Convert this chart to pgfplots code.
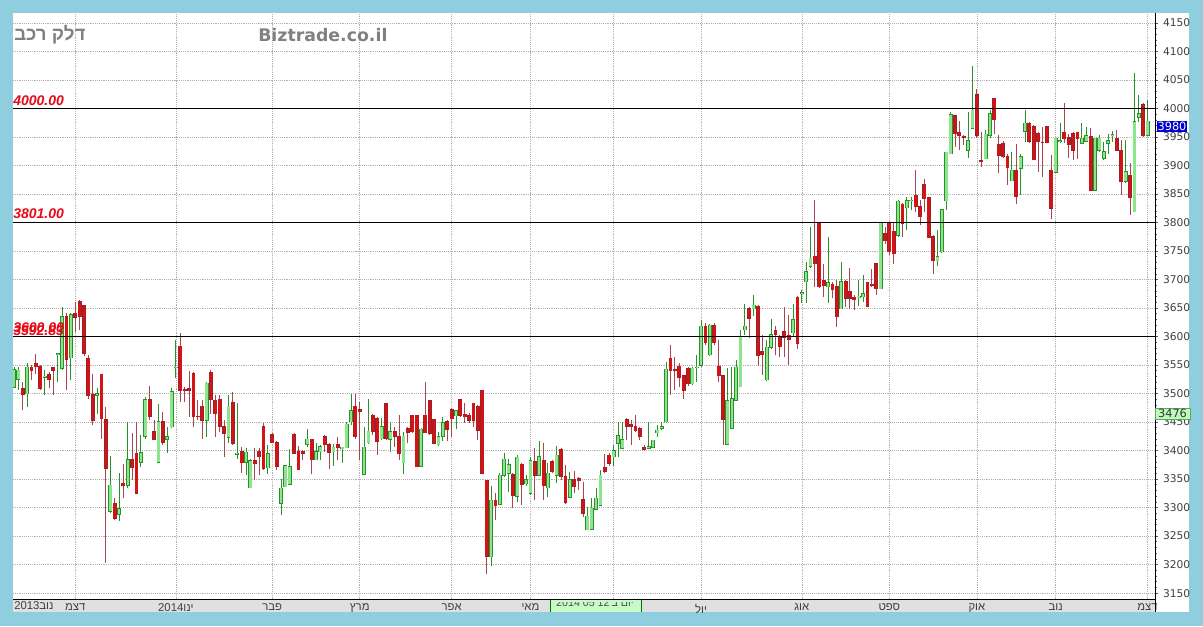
\documentclass[border=0pt]{standalone}
\usepackage{fontspec}
\usepackage{pgfplots}
\usepackage{pgfplotstable}
\pgfplotsset{compat=1.18}
\setmainfont{DejaVu Sans}
\newfontfamily\heb[Script=Hebrew]{Liberation Sans}
\newfontfamily\lib{Liberation Sans}
\TeXXeTstate=1
\definecolor{bgblue}{RGB}{143,206,222}
\definecolor{bandgray}{RGB}{224,224,224}
\definecolor{labred}{RGB}{230,10,25}
\definecolor{titlegray}{RGB}{128,128,128}
\definecolor{upfill}{RGB}{140,228,140}
\definecolor{updraw}{RGB}{40,145,40}
\definecolor{dnfill}{RGB}{210,20,20}
\definecolor{dndraw}{RGB}{160,30,40}
\definecolor{dnwick}{RGB}{165,70,80}
\definecolor{boxblue}{RGB}{0,0,210}
\definecolor{boxgreen}{RGB}{190,250,190}
\definecolor{boxgreendraw}{RGB}{90,170,90}
\definecolor{tipgreen}{RGB}{200,250,200}

\pgfplotsset{
  wick/.style={draw=none, no marks, forget plot,
    error bars/y dir=plus, error bars/y explicit, error bars/error mark=none,
    error bars/error bar style={draw=#1, line width=0.7pt}},
  bodyout/.style={draw=none, no marks, forget plot,
    error bars/y dir=plus, error bars/y explicit, error bars/error mark=none,
    error bars/error bar style={draw=#1, line width=2.9pt, shorten <=-0.4pt, shorten >=-0.4pt}},
  bodyin/.style={draw=none, no marks, forget plot,
    error bars/y dir=plus, error bars/y explicit, error bars/error mark=none,
    error bars/error bar style={draw=#1, line width=1.9pt}},
}

\pgfplotstableread{
i O H L C
0 3511 3546 3509 3542
1 3525 3546 3506 3541
3 3500 3553 3476 3546
7 3529 3541 3497 3530
10 3569 3570 3521 3570
11 3544 3652 3542 3635
13 3563 3642 3524 3638
19 3497 3509 3465 3500
22 3294 3390 3290 3339
24 3288 3360 3277 3298
26 3339 3451 3334 3384
29 3380 3427 3372 3396
30 3425 3494 3420 3489
33 3380 3482 3380 3451
35 3420 3442 3395 3424
36 3442 3509 3439 3503
37 3545 3594 3527 3546
44 3453 3521 3424 3518
49 3423 3497 3413 3478
51 3394 3483 3386 3395
53 3380 3404 3357 3397
54 3335 3386 3335 3382
58 3370 3410 3359 3394
61 3308 3351 3287 3334
62 3337 3375 3337 3373
63 3341 3402 3339 3372
67 3411 3437 3407 3420
69 3384 3413 3383 3398
70 3398 3410 3383 3407
73 3398 3411 3373 3406
75 3403 3407 3378 3406
76 3405 3451 3404 3446
77 3451 3499 3445 3470
80 3359 3442 3357 3406
81 3414 3490 3411 3434
84 3421 3457 3418 3442
86 3420 3451 3398 3433
89 3379 3433 3359 3425
93 3373 3439 3372 3437
97 3410 3433 3408 3424
98 3425 3459 3417 3449
101 3461 3472 3437 3470
109 3214 3338 3197 3313
111 3306 3360 3304 3357
112 3357 3395 3354 3385
113 3360 3386 3328 3375
115 3320 3392 3310 3388
117 3342 3357 3338 3349
118 3325 3389 3322 3382
120 3357 3416 3357 3389
122 3335 3378 3319 3360
124 3357 3408 3344 3392
127 3318 3363 3316 3349
131 3261 3301 3261 3285
132 3262 3316 3261 3299
133 3297 3334 3296 3316
134 3304 3366 3303 3357
137 3389 3410 3373 3400
138 3413 3451 3389 3426
139 3404 3451 3402 3419
145 3404 3451 3404 3407
146 3406 3419 3404 3418
147 3431 3445 3424 3436
148 3439 3451 3436 3442
149 3451 3556 3449 3543
155 3517 3547 3515 3544
156 3545 3567 3521 3546
157 3550 3629 3547 3618
159 3568 3622 3566 3620
163 3411 3544 3410 3487
164 3439 3546 3438 3491
165 3488 3559 3487 3546
166 3512 3611 3511 3600
167 3612 3657 3603 3618
169 3649 3673 3636 3655
172 3524 3594 3522 3581
173 3581 3630 3579 3603
178 3607 3657 3600 3629
180 3676 3681 3658 3677
181 3696 3731 3659 3714
182 3723 3793 3721 3737
186 3687 3774 3659 3694
189 3649 3731 3648 3696
193 3668 3699 3653 3671
194 3670 3708 3661 3675
198 3684 3800 3683 3799
202 3778 3840 3775 3837
204 3826 3845 3787 3838
205 3838 3845 3822 3839
211 3733 3787 3724 3740
212 3749 3824 3746 3822
213 3838 3924 3822 3923
214 3921 3994 3920 3989
218 3927 3994 3914 3943
219 3965 4075 3964 3997
222 3912 3962 3911 3955
223 3953 3997 3948 3991
228 3873 3923 3872 3892
230 3895 3920 3849 3915
231 3960 3997 3941 3974
238 3888 3949 3886 3948
239 3942 3974 3939 3943
244 3939 3974 3937 3948
245 3943 3968 3941 3952
247 3857 3949 3855 3948
248 3927 3954 3924 3948
249 3913 3941 3910 3924
250 3939 3955 3921 3943
251 3953 3961 3941 3954
254 3872 3945 3870 3889
256 3819 4062 3818 3977
257 3985 4024 3977 3991
259 3953 4015 3952 3978
}\upTable

\pgfplotstableread{
i O H L C
2 3508 3521 3471 3499
4 3546 3550 3524 3540
5 3553 3569 3534 3547
6 3547 3550 3506 3509
8 3533 3538 3509 3525
9 3545 3546 3497 3541
12 3635 3641 3506 3560
14 3641 3661 3608 3634
15 3661 3664 3611 3636
16 3654 3655 3566 3570
17 3562 3568 3491 3497
18 3499 3535 3445 3453
20 3533 3535 3421 3456
21 3455 3477 3202 3369
23 3308 3316 3279 3281
25 3343 3377 3316 3338
27 3384 3430 3348 3370
28 3394 3451 3325 3325
31 3489 3513 3453 3459
32 3433 3453 3418 3420
34 3451 3468 3410 3414
38 3583 3607 3486 3506
39 3507 3512 3486 3505
40 3508 3540 3459 3506
41 3535 3538 3442 3459
42 3460 3489 3453 3459
43 3478 3489 3420 3453
45 3537 3541 3465 3490
46 3487 3497 3424 3465
47 3490 3497 3433 3442
48 3443 3453 3389 3430
50 3484 3503 3410 3413
52 3398 3407 3360 3379
55 3382 3404 3348 3377
56 3398 3404 3357 3389
57 3442 3448 3366 3369
59 3429 3430 3413 3414
60 3414 3416 3366 3373
64 3429 3430 3394 3395
65 3398 3408 3366 3367
66 3399 3401 3384 3395
68 3420 3421 3359 3384
71 3424 3427 3398 3410
72 3410 3413 3367 3397
74 3410 3424 3383 3405
78 3478 3499 3421 3424
79 3472 3486 3383 3468
82 3462 3465 3427 3433
83 3457 3459 3392 3416
85 3483 3484 3418 3421
87 3433 3441 3407 3425
88 3425 3462 3383 3395
90 3439 3441 3413 3431
91 3462 3463 3431 3433
92 3461 3462 3372 3372
94 3462 3521 3430 3431
95 3487 3489 3427 3430
96 3455 3456 3411 3413
99 3451 3454 3416 3437
100 3472 3474 3423 3456
102 3489 3490 3459 3462
103 3464 3483 3448 3459
104 3462 3466 3448 3453
105 3483 3484 3442 3453
106 3478 3480 3418 3436
107 3505 3506 3360 3360
108 3348 3349 3184 3215
110 3313 3325 3279 3304
114 3358 3360 3299 3322
116 3376 3378 3304 3341
119 3380 3404 3313 3357
121 3382 3413 3313 3338
123 3380 3383 3360 3363
125 3402 3404 3348 3354
126 3354 3375 3307 3309
128 3349 3365 3325 3337
129 3351 3354 3331 3347
130 3314 3345 3283 3290
135 3370 3394 3360 3363
136 3392 3395 3373 3378
140 3454 3457 3419 3443
141 3445 3454 3410 3442
142 3443 3462 3433 3436
143 3439 3442 3418 3424
144 3406 3410 3401 3402
150 3562 3585 3497 3541
151 3542 3564 3506 3540
152 3548 3554 3511 3529
153 3531 3532 3491 3506
154 3544 3546 3513 3517
158 3618 3623 3585 3589
160 3620 3623 3585 3589
161 3548 3594 3521 3531
162 3531 3532 3410 3455
168 3649 3651 3597 3632
170 3653 3655 3548 3566
171 3573 3603 3532 3568
174 3611 3618 3567 3604
175 3598 3602 3564 3582
176 3608 3651 3565 3599
177 3602 3638 3550 3595
179 3669 3671 3579 3588
183 3741 3840 3687 3728
184 3799 3800 3686 3687
185 3698 3728 3669 3689
187 3692 3696 3667 3682
188 3687 3699 3617 3635
190 3696 3699 3652 3667
191 3679 3721 3649 3667
192 3669 3673 3646 3665
195 3694 3696 3652 3653
196 3692 3718 3687 3689
197 3728 3728 3673 3684
199 3780 3793 3763 3768
200 3799 3800 3743 3749
201 3785 3800 3728 3745
203 3832 3834 3775 3799
206 3848 3892 3819 3828
207 3828 3839 3796 3810
208 3866 3876 3819 3842
209 3843 3845 3772 3773
210 3775 3778 3709 3734
215 3987 3989 3933 3956
216 3958 3978 3927 3953
217 3951 3954 3936 3950
220 4024 4035 3949 3953
221 3908 3959 3898 3907
224 4017 4019 3956 3980
225 3936 3953 3886 3918
226 3939 3943 3913 3915
227 3915 3921 3865 3896
229 3892 3937 3832 3845
232 3974 3977 3939 3943
233 3968 3971 3910 3911
234 3956 3958 3889 3942
235 3941 3968 3880 3940
236 3968 3969 3939 3941
237 3892 3918 3807 3825
240 3958 4009 3939 3947
241 3949 3956 3914 3937
242 3956 3958 3910 3927
243 3958 3959 3911 3948
246 3950 3966 3857 3857
252 3948 3962 3925 3927
253 3927 3945 3848 3872
255 3883 3905 3813 3844
258 4007 4009 3950 3952
}\dnTable

\begin{document}
\begin{tikzpicture}[x=0.75pt,y=0.75pt]
\fill[bgblue] (0,0) rectangle (1203,626);
\fill[white] (13,14) rectangle (1189,613);
\fill[bandgray] (13,14) rectangle (1155,27);
\begin{axis}[
  at={(9.75pt,20.25pt)}, anchor=south west, scale only axis,
  width=856.5pt, height=439.5pt,
  xmin=-0.23, xmax=260.7, ymin=3139.7, ymax=4167.5,
  axis line style={draw=none},
  xtick={14,37,59,79,100,118,137,157,180,200,220,238,259},
  xticklabels={{\beginR דצמ\endR},{2014\beginR ינו\endR},{\beginR פבר\endR},{\beginR מרץ\endR},{\beginR אפר\endR},{\beginR מאי\endR},{},{\beginR יול\endR},{\beginR אוג\endR},{\beginR ספט\endR},{\beginR אוק\endR},{\beginR נוב\endR},{\beginR דצמ\endR}},
  x tick style={draw=none},
  xtick pos=bottom,
  ytick={3150,3200,...,4150},
  minor y tick num=4,
  ytick pos=right, yticklabel pos=right,
  tick align=outside,
  major tick length=2.5pt, minor tick length=1.5pt,
  y tick style={black!65, line width=0.5pt},
  grid=major,
  major grid style={black!30, densely dotted, line width=0.45pt},
  yticklabel style={font=\fontsize{8}{9}\selectfont, text=black!75},
  /pgf/number format/assume math mode=true,
  /pgf/number format/1000 sep={},
  xticklabel style={font=\heb\fontsize{8.5}{9}\selectfont, text=black!75, inner sep=1pt},
]
% wicks
\addplot[wick=updraw] table[x=i, y=L, y error plus expr=\thisrow{H}-\thisrow{L}] {\upTable};
\addplot[wick=dnwick] table[x=i, y=L, y error plus expr=\thisrow{H}-\thisrow{L}] {\dnTable};
% bodies
\addplot[bodyout=updraw] table[x=i, y=O, y error plus expr=\thisrow{C}-\thisrow{O}] {\upTable};
\addplot[bodyin=upfill] table[x=i, y=O, y error plus expr=\thisrow{C}-\thisrow{O}] {\upTable};
\addplot[bodyout=dndraw] table[x=i, y=C, y error plus expr=\thisrow{O}-\thisrow{C}] {\dnTable};
\addplot[bodyin=dnfill] table[x=i, y=C, y error plus expr=\thisrow{O}-\thisrow{C}] {\dnTable};
% level lines
\addplot[black, line width=0.6pt, forget plot] coordinates {(-0.23,4000) (260.7,4000)};
\addplot[black, line width=0.6pt, forget plot] coordinates {(-0.23,3801) (260.7,3801)};
\addplot[black, line width=0.6pt, forget plot] coordinates {(-0.23,3600) (260.7,3600)};
\node[anchor=south west, inner sep=0pt, yshift=2.25pt, font=\lib\bfseries\itshape\fontsize{10.5}{12}\selectfont, text=labred] at (axis cs:-0.23,4000) {4000.00};
\node[anchor=south west, inner sep=0pt, yshift=2.25pt, font=\lib\bfseries\itshape\fontsize{10.5}{12}\selectfont, text=labred] at (axis cs:-0.23,3801) {3801.00};
\node[anchor=south west, inner sep=0pt, yshift=3pt, font=\lib\bfseries\itshape\fontsize{10.5}{12}\selectfont, text=labred] at (axis cs:-0.23,3600) {3600.00};
\node[anchor=south west, inner sep=0pt, yshift=0.3pt, font=\lib\bfseries\itshape\fontsize{10.5}{12}\selectfont, text=labred] at (axis cs:-0.23,3600) {3592.83};
\end{axis}
\draw[black, line width=0.75pt] (13,27) -- (1155,27);
\draw[black, line width=0.75pt] (1155,14) -- (1155,613);
\node[anchor=west, inner sep=0pt, text=titlegray, font=\heb\bfseries\fontsize{14}{16}\selectfont] at (14,591) {\beginR דלק רכב\endR};
\node[anchor=west, inner sep=0pt, text=titlegray, font=\bfseries\fontsize{13}{15}\selectfont] at (258,591) {Biztrade.co.il};
\node[anchor=west, inner sep=0pt, text=black!75, font=\heb\fontsize{8.5}{9}\selectfont] at (14,20.5) {2013\beginR נוב\endR};
\fill[tipgreen] (550,14.5) rectangle (641,26.5);
\draw[green!45!black, line width=0.6pt] (550,14.5) -- (550,26.5);
\draw[green!45!black, line width=0.6pt] (641,14.5) -- (641,26.5);
\begin{scope}
\clip (551,14.5) rectangle (640,24);
\node[inner sep=0pt, text=black!70, font=\heb\fontsize{8}{9}\selectfont] at (595,23) {2014 05 12\beginR יום ב'\endR};
\end{scope}
\node[fill=boxblue, text=white, font=\fontsize{8.5}{9}\selectfont, inner sep=0pt, minimum width=22.5pt, minimum height=8.5pt] at (1172,499.5) {3980};
\node[fill=boxgreen, draw=boxgreendraw, line width=0.4pt, text=black!80, font=\fontsize{8.5}{9}\selectfont, inner sep=0pt, minimum width=26pt, minimum height=8.25pt] at (1172.5,212.5) {3476};
\end{tikzpicture}
\end{document}
